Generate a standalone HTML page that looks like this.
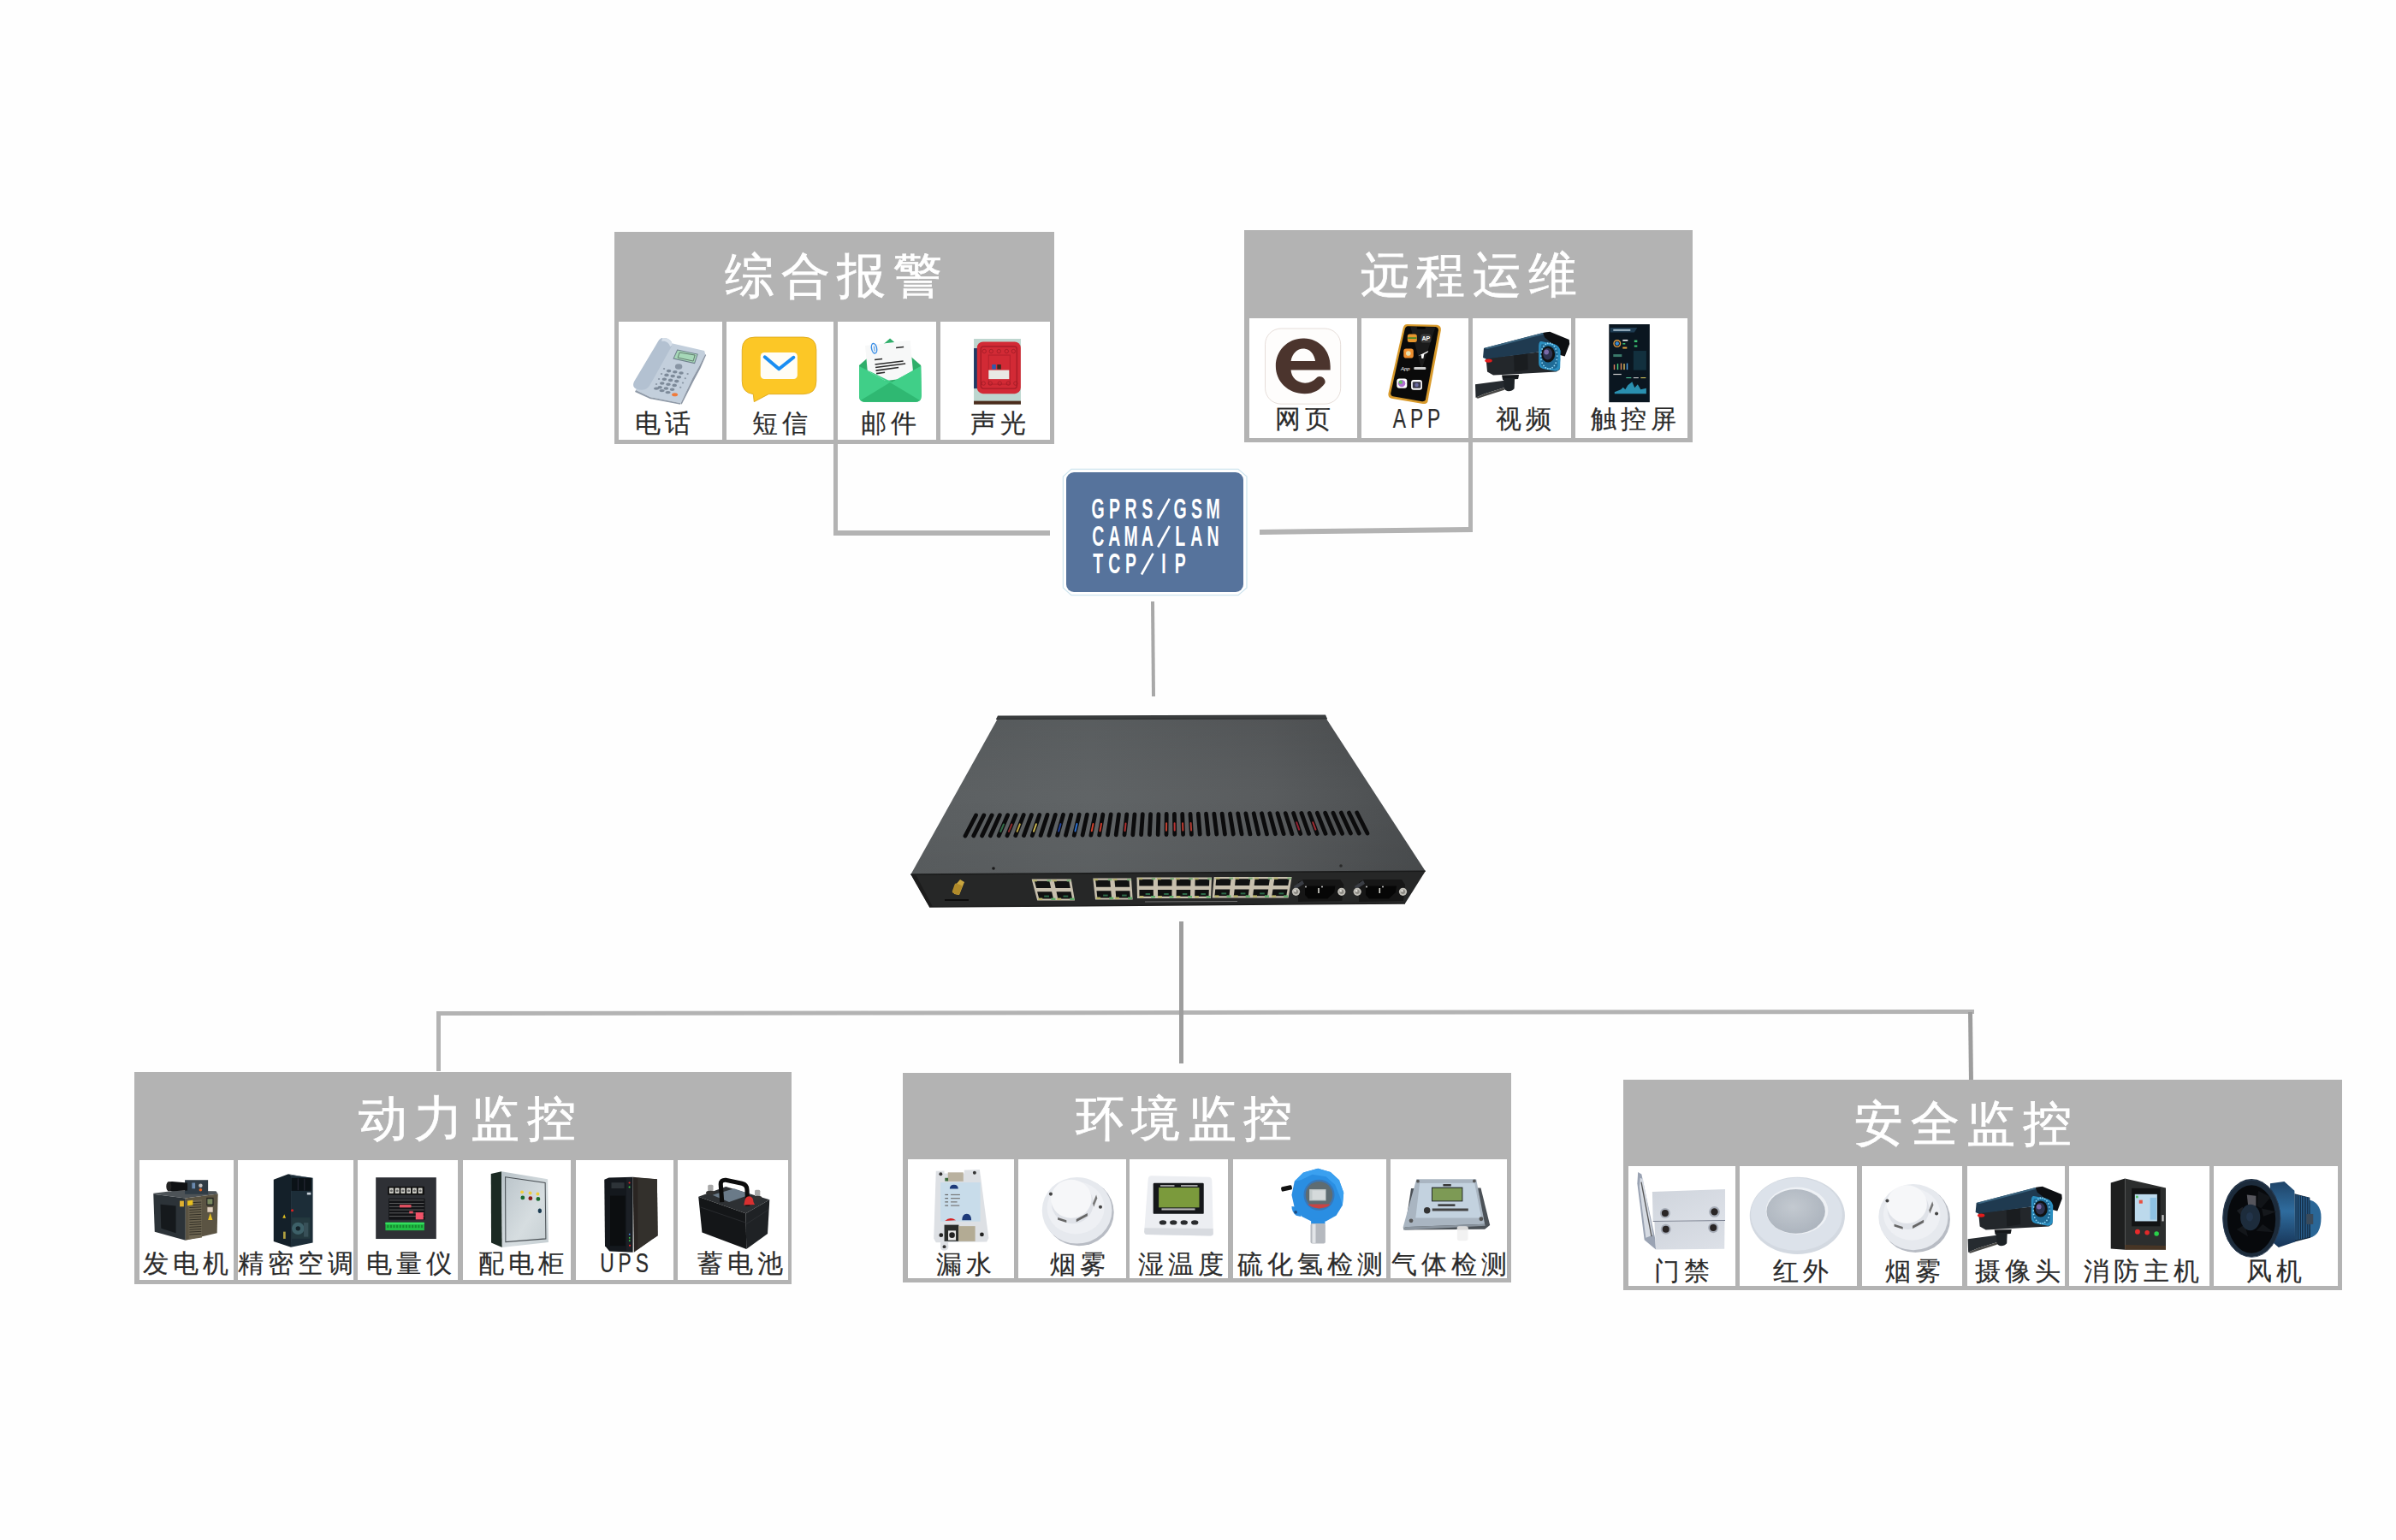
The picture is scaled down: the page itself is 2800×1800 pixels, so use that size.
<!DOCTYPE html>
<html><head><meta charset="utf-8">
<style>
html,body{margin:0;padding:0;background:#fefefe;width:2800px;height:1800px;overflow:hidden}
svg{position:absolute;left:0;top:0;display:block}
text{font-family:"Liberation Sans",sans-serif}
.t{fill:#fff;font-size:57px;letter-spacing:8.6px;stroke:#fff;stroke-width:0.7px}
.l{fill:#2b2b2b;font-size:30px;letter-spacing:5px;stroke:#2b2b2b;stroke-width:0.2px}
.m{font-family:"Liberation Mono",monospace;font-weight:bold;fill:#fff;font-size:32px}
</style></head><body>
<svg width="2800" height="1800" viewBox="0 0 2800 1800">

<g fill="#b3b3b3">
<polygon points="974,516 979,516 979,620 1227,620 1227,626 974,626"/>
<polygon points="1716,516 1721,516 1721,622 1472,625 1472,619 1716,616"/>
<polygon points="1345,703 1349,703 1350,814 1346,814" fill="#a8a8a8"/>
<polygon points="510,1182 2307,1180 2307,1185 515,1187 515,1252 510,1252"/>
<rect x="1378" y="1077" width="5" height="166" fill="#9d9d9d"/>
<polygon points="2300,1183 2305,1183 2306,1265 2301,1265" fill="#9d9d9d"/>
</g>
<rect x="718" y="271" width="514" height="248" fill="#b3b3b3"/>
<rect x="723" y="376" width="121" height="138" fill="#fff"/>
<rect x="849" y="376" width="125" height="138" fill="#fff"/>
<rect x="979" y="376" width="115" height="138" fill="#fff"/>
<rect x="1099" y="376" width="128" height="138" fill="#fff"/>
<text class="t" x="847" y="341.5">综合报警</text>
<text class="l" x="777" y="505" text-anchor="middle">电话</text>
<text class="l" x="914" y="505" text-anchor="middle">短信</text>
<text class="l" x="1041" y="505" text-anchor="middle">邮件</text>
<text class="l" x="1169" y="505" text-anchor="middle">声光</text>
<rect x="1454" y="269" width="524" height="248" fill="#b3b3b3"/>
<rect x="1460" y="372" width="126" height="140" fill="#fff"/>
<rect x="1591" y="372" width="125" height="140" fill="#fff"/>
<rect x="1721" y="372" width="115" height="140" fill="#fff"/>
<rect x="1841" y="372" width="131" height="140" fill="#fff"/>
<text class="t" x="1589.7" y="340.5">远程运维</text>
<text class="l" x="1525" y="500" text-anchor="middle">网页</text>
<text class="l" transform="translate(1658 500) scale(0.76 1.03)" x="0" y="0" text-anchor="middle" style="letter-spacing:6.5px">APP</text>
<text class="l" x="1783" y="500" text-anchor="middle">视频</text>
<text class="l" x="1911" y="500" text-anchor="middle">触控屏</text>
<rect x="157" y="1253" width="768" height="248" fill="#b3b3b3"/>
<rect x="163" y="1356" width="110" height="140" fill="#fff"/>
<rect x="278" y="1356" width="135" height="140" fill="#fff"/>
<rect x="418" y="1356" width="117" height="140" fill="#fff"/>
<rect x="541" y="1356" width="126" height="140" fill="#fff"/>
<rect x="673" y="1356" width="114" height="140" fill="#fff"/>
<rect x="792" y="1356" width="129" height="140" fill="#fff"/>
<text class="t" x="418.9" y="1327.3">动力监控</text>
<text class="l" x="219" y="1487" text-anchor="middle">发电机</text>
<text class="l" x="348" y="1487" text-anchor="middle">精密空调</text>
<text class="l" x="480" y="1487" text-anchor="middle">电量仪</text>
<text class="l" x="611" y="1487" text-anchor="middle">配电柜</text>
<text class="l" transform="translate(732 1487) scale(0.76 1.03)" x="0" y="0" text-anchor="middle" style="letter-spacing:6.5px">UPS</text>
<text class="l" x="867" y="1487" text-anchor="middle">蓄电池</text>
<rect x="1055" y="1254" width="711" height="245" fill="#b3b3b3"/>
<rect x="1061" y="1355" width="124" height="139" fill="#fff"/>
<rect x="1190" y="1355" width="126" height="139" fill="#fff"/>
<rect x="1320" y="1355" width="115" height="139" fill="#fff"/>
<rect x="1441" y="1355" width="179" height="139" fill="#fff"/>
<rect x="1625" y="1355" width="136" height="139" fill="#fff"/>
<text class="t" x="1256.7" y="1327.3">环境监控</text>
<text class="l" x="1129" y="1488" text-anchor="middle">漏水</text>
<text class="l" x="1262" y="1488" text-anchor="middle">烟雾</text>
<text class="l" x="1382" y="1488" text-anchor="middle">湿温度</text>
<text class="l" x="1533" y="1488" text-anchor="middle">硫化氢检测</text>
<text class="l" x="1696" y="1488" text-anchor="middle">气体检测</text>
<rect x="1897" y="1262" width="840" height="246" fill="#b3b3b3"/>
<rect x="1903" y="1363" width="125" height="140" fill="#fff"/>
<rect x="2033" y="1363" width="137" height="140" fill="#fff"/>
<rect x="2176" y="1363" width="117" height="140" fill="#fff"/>
<rect x="2299" y="1363" width="114" height="140" fill="#fff"/>
<rect x="2418" y="1363" width="164" height="140" fill="#fff"/>
<rect x="2587" y="1363" width="145" height="140" fill="#fff"/>
<text class="t" x="2167" y="1332.9">安全监控</text>
<text class="l" x="1968" y="1496" text-anchor="middle">门禁</text>
<text class="l" x="2107" y="1496" text-anchor="middle">红外</text>
<text class="l" x="2238" y="1496" text-anchor="middle">烟雾</text>
<text class="l" x="2360" y="1496" text-anchor="middle">摄像头</text>
<text class="l" x="2505" y="1496" text-anchor="middle">消防主机</text>
<text class="l" x="2660" y="1496" text-anchor="middle">风机</text>
<g id="blue">
<polygon points="1252,548.3 1447,548.3 1457,557 1457,687 1447,695.7 1252,695.7 1242.4,687 1242.4,557" fill="#fff" stroke="#cfe5ef" stroke-width="1.3"/>
<rect x="1246" y="552" width="207" height="140" rx="9" fill="#56739c"/>
<text transform="translate(0 606.3) scale(0.6 1)" x="2138.67 2170.67 2202.67 2234.67 2266.67 2298.67 2330.67 2362.67" y="0" text-anchor="middle" style="font-family:Liberation Sans;font-weight:bold;font-size:32.5px;fill:#fff">GPRS GSM</text>
<line x1="1353.2" y1="607.5" x2="1366.8" y2="582.8" stroke="#fff" stroke-width="2.6"/>
<text transform="translate(0 638.3) scale(0.6 1)" x="2138.67 2170.67 2202.67 2234.67 2266.67 2298.67 2330.67 2362.67" y="0" text-anchor="middle" style="font-family:Liberation Sans;font-weight:bold;font-size:32.5px;fill:#fff">CAMA LAN</text>
<line x1="1353.2" y1="639.5" x2="1366.8" y2="614.8" stroke="#fff" stroke-width="2.6"/>
<text transform="translate(0 670.3) scale(0.6 1)" x="2138.67 2170.67 2202.67 2234.67 2266.67 2298.67" y="0" text-anchor="middle" style="font-family:Liberation Sans;font-weight:bold;font-size:32.5px;fill:#fff">TCP IP</text>
<line x1="1334.0" y1="671.5" x2="1347.6" y2="646.8" stroke="#fff" stroke-width="2.6"/>
</g>
<defs>
<linearGradient id="topH" x1="1064" y1="0" x2="1665" y2="0" gradientUnits="userSpaceOnUse">
<stop offset="0" stop-color="#5b5f61"/><stop offset="0.35" stop-color="#606466"/><stop offset="0.7" stop-color="#595c5e"/><stop offset="1" stop-color="#4a4d4f"/>
</linearGradient>
<linearGradient id="topV" x1="0" y1="837" x2="0" y2="1022" gradientUnits="userSpaceOnUse">
<stop offset="0" stop-color="#000" stop-opacity="0.08"/><stop offset="0.5" stop-color="#000" stop-opacity="0.0"/><stop offset="1" stop-color="#000" stop-opacity="0.05"/>
</linearGradient>
</defs>
<polygon points="1167,838 1548,837 1665.7,1018.2 1064.4,1022" fill="url(#topH)"/>
<polygon points="1167,838 1548,837 1665.7,1018.2 1064.4,1022" fill="url(#topV)"/>
<polygon points="1166,836.5 1549,835.5 1551,840 1164,840.5" fill="#3a3d3e"/>
<line x1="1164" y1="840.5" x2="1551" y2="840" stroke="#2e3031" stroke-width="1.2"/>
<line x1="1128.0" y1="977.0" x2="1140.5" y2="953.0" stroke="#0b0b0c" stroke-width="4.8" stroke-linecap="round"/>
<line x1="1137.8" y1="976.9" x2="1149.8" y2="952.9" stroke="#0b0b0c" stroke-width="4.8" stroke-linecap="round"/>
<line x1="1147.6" y1="976.9" x2="1159.1" y2="952.9" stroke="#0b0b0c" stroke-width="4.8" stroke-linecap="round"/>
<line x1="1157.4" y1="976.8" x2="1168.3" y2="952.8" stroke="#0b0b0c" stroke-width="4.8" stroke-linecap="round"/>
<line x1="1167.2" y1="976.8" x2="1177.6" y2="952.8" stroke="#0b0b0c" stroke-width="4.8" stroke-linecap="round"/>
<line x1="1177.0" y1="976.7" x2="1186.9" y2="952.7" stroke="#0b0b0c" stroke-width="4.8" stroke-linecap="round"/>
<line x1="1186.8" y1="976.6" x2="1196.2" y2="952.6" stroke="#0b0b0c" stroke-width="4.8" stroke-linecap="round"/>
<line x1="1196.5" y1="976.6" x2="1205.4" y2="952.6" stroke="#0b0b0c" stroke-width="4.8" stroke-linecap="round"/>
<line x1="1206.3" y1="976.5" x2="1214.7" y2="952.5" stroke="#0b0b0c" stroke-width="4.8" stroke-linecap="round"/>
<line x1="1216.1" y1="976.4" x2="1224.0" y2="952.4" stroke="#0b0b0c" stroke-width="4.8" stroke-linecap="round"/>
<line x1="1225.9" y1="976.4" x2="1233.3" y2="952.4" stroke="#0b0b0c" stroke-width="4.8" stroke-linecap="round"/>
<line x1="1235.7" y1="976.3" x2="1242.5" y2="952.3" stroke="#0b0b0c" stroke-width="4.8" stroke-linecap="round"/>
<line x1="1245.5" y1="976.2" x2="1251.8" y2="952.2" stroke="#0b0b0c" stroke-width="4.8" stroke-linecap="round"/>
<line x1="1255.3" y1="976.2" x2="1261.1" y2="952.2" stroke="#0b0b0c" stroke-width="4.8" stroke-linecap="round"/>
<line x1="1265.1" y1="976.1" x2="1270.4" y2="952.1" stroke="#0b0b0c" stroke-width="4.8" stroke-linecap="round"/>
<line x1="1274.9" y1="976.1" x2="1279.7" y2="952.1" stroke="#0b0b0c" stroke-width="4.8" stroke-linecap="round"/>
<line x1="1284.7" y1="976.0" x2="1288.9" y2="952.0" stroke="#0b0b0c" stroke-width="4.8" stroke-linecap="round"/>
<line x1="1294.5" y1="975.9" x2="1298.2" y2="951.9" stroke="#0b0b0c" stroke-width="4.8" stroke-linecap="round"/>
<line x1="1304.2" y1="975.9" x2="1307.5" y2="951.9" stroke="#0b0b0c" stroke-width="4.8" stroke-linecap="round"/>
<line x1="1314.0" y1="975.8" x2="1316.8" y2="951.8" stroke="#0b0b0c" stroke-width="4.8" stroke-linecap="round"/>
<line x1="1323.8" y1="975.8" x2="1326.0" y2="951.8" stroke="#0b0b0c" stroke-width="4.8" stroke-linecap="round"/>
<line x1="1333.6" y1="975.7" x2="1335.3" y2="951.7" stroke="#0b0b0c" stroke-width="4.8" stroke-linecap="round"/>
<line x1="1343.4" y1="975.6" x2="1344.6" y2="951.6" stroke="#0b0b0c" stroke-width="4.8" stroke-linecap="round"/>
<line x1="1353.2" y1="975.6" x2="1353.9" y2="951.6" stroke="#0b0b0c" stroke-width="4.8" stroke-linecap="round"/>
<line x1="1363.0" y1="975.5" x2="1363.2" y2="951.5" stroke="#0b0b0c" stroke-width="4.8" stroke-linecap="round"/>
<line x1="1372.8" y1="975.4" x2="1372.4" y2="951.4" stroke="#0b0b0c" stroke-width="4.8" stroke-linecap="round"/>
<line x1="1382.6" y1="975.4" x2="1381.7" y2="951.4" stroke="#0b0b0c" stroke-width="4.8" stroke-linecap="round"/>
<line x1="1392.4" y1="975.3" x2="1391.0" y2="951.3" stroke="#0b0b0c" stroke-width="4.8" stroke-linecap="round"/>
<line x1="1402.2" y1="975.2" x2="1400.3" y2="951.2" stroke="#0b0b0c" stroke-width="4.8" stroke-linecap="round"/>
<line x1="1412.0" y1="975.2" x2="1409.5" y2="951.2" stroke="#0b0b0c" stroke-width="4.8" stroke-linecap="round"/>
<line x1="1421.8" y1="975.1" x2="1418.8" y2="951.1" stroke="#0b0b0c" stroke-width="4.8" stroke-linecap="round"/>
<line x1="1431.5" y1="975.1" x2="1428.1" y2="951.1" stroke="#0b0b0c" stroke-width="4.8" stroke-linecap="round"/>
<line x1="1441.3" y1="975.0" x2="1437.4" y2="951.0" stroke="#0b0b0c" stroke-width="4.8" stroke-linecap="round"/>
<line x1="1451.1" y1="974.9" x2="1446.7" y2="950.9" stroke="#0b0b0c" stroke-width="4.8" stroke-linecap="round"/>
<line x1="1460.9" y1="974.9" x2="1455.9" y2="950.9" stroke="#0b0b0c" stroke-width="4.8" stroke-linecap="round"/>
<line x1="1470.7" y1="974.8" x2="1465.2" y2="950.8" stroke="#0b0b0c" stroke-width="4.8" stroke-linecap="round"/>
<line x1="1480.5" y1="974.8" x2="1474.5" y2="950.8" stroke="#0b0b0c" stroke-width="4.8" stroke-linecap="round"/>
<line x1="1490.3" y1="974.7" x2="1483.8" y2="950.7" stroke="#0b0b0c" stroke-width="4.8" stroke-linecap="round"/>
<line x1="1500.1" y1="974.6" x2="1493.0" y2="950.6" stroke="#0b0b0c" stroke-width="4.8" stroke-linecap="round"/>
<line x1="1509.9" y1="974.6" x2="1502.3" y2="950.6" stroke="#0b0b0c" stroke-width="4.8" stroke-linecap="round"/>
<line x1="1519.7" y1="974.5" x2="1511.6" y2="950.5" stroke="#0b0b0c" stroke-width="4.8" stroke-linecap="round"/>
<line x1="1529.5" y1="974.4" x2="1520.9" y2="950.4" stroke="#0b0b0c" stroke-width="4.8" stroke-linecap="round"/>
<line x1="1539.2" y1="974.4" x2="1530.2" y2="950.4" stroke="#0b0b0c" stroke-width="4.8" stroke-linecap="round"/>
<line x1="1549.0" y1="974.3" x2="1539.4" y2="950.3" stroke="#0b0b0c" stroke-width="4.8" stroke-linecap="round"/>
<line x1="1558.8" y1="974.2" x2="1548.7" y2="950.2" stroke="#0b0b0c" stroke-width="4.8" stroke-linecap="round"/>
<line x1="1568.6" y1="974.2" x2="1558.0" y2="950.2" stroke="#0b0b0c" stroke-width="4.8" stroke-linecap="round"/>
<line x1="1578.4" y1="974.1" x2="1567.3" y2="950.1" stroke="#0b0b0c" stroke-width="4.8" stroke-linecap="round"/>
<line x1="1588.2" y1="974.1" x2="1576.5" y2="950.1" stroke="#0b0b0c" stroke-width="4.8" stroke-linecap="round"/>
<line x1="1598.0" y1="974.0" x2="1585.8" y2="950.0" stroke="#0b0b0c" stroke-width="4.8" stroke-linecap="round"/>
<line x1="1188.6" y1="971.8" x2="1191.9" y2="963.4" stroke="#b8a040" stroke-width="2" stroke-linecap="round"/>
<line x1="1208.0" y1="971.7" x2="1210.9" y2="963.3" stroke="#c9b550" stroke-width="2" stroke-linecap="round"/>
<line x1="1169.3" y1="972.0" x2="1172.9" y2="963.5" stroke="#2f6a45" stroke-width="2" stroke-linecap="round"/>
<line x1="1178.9" y1="971.9" x2="1182.4" y2="963.5" stroke="#8a2a2a" stroke-width="2" stroke-linecap="round"/>
<line x1="1237.1" y1="971.5" x2="1239.5" y2="963.1" stroke="#1c3f9a" stroke-width="2" stroke-linecap="round"/>
<line x1="1256.5" y1="971.4" x2="1258.5" y2="963.0" stroke="#2a6fd0" stroke-width="2" stroke-linecap="round"/>
<line x1="1275.8" y1="971.3" x2="1277.5" y2="962.9" stroke="#d0402a" stroke-width="2" stroke-linecap="round"/>
<line x1="1285.5" y1="971.2" x2="1287.0" y2="962.8" stroke="#c83a2a" stroke-width="2" stroke-linecap="round"/>
<line x1="1314.6" y1="971.0" x2="1315.5" y2="962.6" stroke="#b03030" stroke-width="2" stroke-linecap="round"/>
<line x1="1363.0" y1="970.7" x2="1363.1" y2="962.3" stroke="#c04030" stroke-width="2" stroke-linecap="round"/>
<line x1="1372.7" y1="970.6" x2="1372.6" y2="962.2" stroke="#b83434" stroke-width="2" stroke-linecap="round"/>
<line x1="1382.4" y1="970.6" x2="1382.1" y2="962.2" stroke="#c03a30" stroke-width="2" stroke-linecap="round"/>
<line x1="1392.1" y1="970.5" x2="1391.6" y2="962.1" stroke="#b03a30" stroke-width="2" stroke-linecap="round"/>
<line x1="1518.1" y1="969.7" x2="1515.2" y2="961.3" stroke="#902030" stroke-width="2" stroke-linecap="round"/>
<line x1="1537.4" y1="969.6" x2="1534.2" y2="961.2" stroke="#a02a30" stroke-width="2" stroke-linecap="round"/>
<polygon points="1064.4,1022 1665.7,1018.2 1642,1056 1086,1060" fill="#262727"/>
<line x1="1064.4" y1="1022" x2="1665.7" y2="1018.2" stroke="#1a1b1b" stroke-width="1.5"/>
<line x1="1086" y1="1060" x2="1642" y2="1056" stroke="#1d1d1d" stroke-width="1.5"/>
<polygon points="1064.4,1022 1070,1022 1090,1060 1086,1060" fill="#1c1c1c"/>
<circle cx="1161" cy="1015" r="1.8" fill="#1a1a1a"/><circle cx="1567" cy="1012" r="1.8" fill="#2a2a2a"/>
<polygon points="1116,1035 1122,1028 1127,1031 1121,1046 1115,1045" fill="#c9a640"/>
<rect x="1114" y="1033" width="9" height="12" rx="2" fill="#b08a2a" transform="rotate(20 1118 1039)"/>
<line x1="1104" y1="1052" x2="1132" y2="1052" stroke="#0c0c0c" stroke-width="2"/>
<polygon points="1205.6,1027.6 1251.7,1027.6 1256.0,1052.6 1212.1999999999998,1052.6" fill="#c7bfad"/><polygon points="1208.9,1029.8 1226.3,1029.8 1228.2,1037.9 1211.1,1037.9" fill="#101111"/><rect x="1206.7" y="1028.2" width="5.1" height="2.2" fill="#b4b070"/><rect x="1223.7" y="1028.2" width="4.6" height="2.2" fill="#7fae7a"/><polygon points="1231.8,1029.8 1249.3,1029.8 1250.8,1037.9 1233.6,1037.9" fill="#101111"/><rect x="1229.7" y="1028.2" width="5.1" height="2.2" fill="#b4b070"/><rect x="1246.7" y="1028.2" width="4.6" height="2.2" fill="#7fae7a"/><polygon points="1212.1,1042.3 1229.1,1042.3 1231.0,1050.4 1214.3,1050.4" fill="#101111"/><rect x="1213.2" y="1049.6" width="5.1" height="2.4" fill="#b9b56a"/><rect x="1228.3" y="1049.6" width="5.1" height="2.4" fill="#5fae6a"/><rect x="1220.2" y="1046.6" width="5.8" height="2" fill="#2c6a48"/><polygon points="1234.5,1042.3 1251.5,1042.3 1253.0,1050.4 1236.3,1050.4" fill="#101111"/><rect x="1235.1" y="1049.6" width="5.1" height="2.4" fill="#b9b56a"/><rect x="1250.3" y="1049.6" width="5.1" height="2.4" fill="#5fae6a"/><rect x="1242.5" y="1046.6" width="5.8" height="2" fill="#2c6a48"/>
<polygon points="1277.3,1026.5 1322,1026.5 1323.7,1051.6 1280.0,1051.6" fill="#c7bfad"/><polygon points="1280.2,1028.7 1297.1,1028.7 1297.9,1036.8 1281.1,1036.8" fill="#101111"/><rect x="1278.2" y="1027.1" width="4.9" height="2.2" fill="#b4b070"/><rect x="1294.8" y="1027.1" width="4.5" height="2.2" fill="#7fae7a"/><polygon points="1302.5,1028.7 1319.5,1028.7 1320.1,1036.8 1303.2,1036.8" fill="#101111"/><rect x="1300.6" y="1027.1" width="4.9" height="2.2" fill="#b4b070"/><rect x="1317.1" y="1027.1" width="4.5" height="2.2" fill="#7fae7a"/><polygon points="1281.5,1041.2 1298.3,1041.2 1299.0,1049.4 1282.4,1049.4" fill="#101111"/><rect x="1281.2" y="1048.6" width="4.9" height="2.4" fill="#b9b56a"/><rect x="1296.3" y="1048.6" width="4.9" height="2.4" fill="#5fae6a"/><rect x="1289.1" y="1045.6" width="5.6" height="2" fill="#2c6a48"/><polygon points="1303.6,1041.2 1320.3,1041.2 1320.9,1049.4 1304.3,1049.4" fill="#101111"/><rect x="1303.1" y="1048.6" width="4.9" height="2.4" fill="#b9b56a"/><rect x="1318.1" y="1048.6" width="4.9" height="2.4" fill="#5fae6a"/><rect x="1311.1" y="1045.6" width="5.6" height="2" fill="#2c6a48"/>
<polygon points="1328.5,1025.5 1416,1025.5 1415,1050 1329.0,1050" fill="#c7bfad"/><polygon points="1331.2,1027.7 1347.8,1027.7 1347.8,1035.5 1331.3,1035.5" fill="#101111"/><rect x="1330.3" y="1026.1" width="4.8" height="2.2" fill="#b4b070"/><rect x="1345.6" y="1026.1" width="4.4" height="2.2" fill="#7fae7a"/><polygon points="1353.0,1027.7 1369.6,1027.7 1369.5,1035.5 1353.0,1035.5" fill="#101111"/><rect x="1352.1" y="1026.1" width="4.8" height="2.2" fill="#b4b070"/><rect x="1367.4" y="1026.1" width="4.4" height="2.2" fill="#7fae7a"/><polygon points="1374.9,1027.7 1391.5,1027.7 1391.3,1035.5 1374.8,1035.5" fill="#101111"/><rect x="1374.0" y="1026.1" width="4.8" height="2.2" fill="#b4b070"/><rect x="1389.3" y="1026.1" width="4.4" height="2.2" fill="#7fae7a"/><polygon points="1396.7,1027.7 1413.3,1027.7 1413.0,1035.5 1396.5,1035.5" fill="#101111"/><rect x="1395.9" y="1026.1" width="4.8" height="2.2" fill="#b4b070"/><rect x="1411.2" y="1026.1" width="4.4" height="2.2" fill="#7fae7a"/><polygon points="1331.4,1040.0 1347.8,1040.0 1347.9,1047.8 1331.5,1047.8" fill="#101111"/><rect x="1331.6" y="1047.0" width="4.8" height="2.4" fill="#b9b56a"/><rect x="1345.1" y="1047.0" width="4.8" height="2.4" fill="#5fae6a"/><rect x="1338.6" y="1044.0" width="5.5" height="2" fill="#2c6a48"/><polygon points="1353.0,1040.0 1369.5,1040.0 1369.4,1047.8 1353.1,1047.8" fill="#101111"/><rect x="1353.1" y="1047.0" width="4.8" height="2.4" fill="#b9b56a"/><rect x="1366.6" y="1047.0" width="4.8" height="2.4" fill="#5fae6a"/><rect x="1360.2" y="1044.0" width="5.5" height="2" fill="#2c6a48"/><polygon points="1374.7,1040.0 1391.2,1040.0 1391.0,1047.8 1374.6,1047.8" fill="#101111"/><rect x="1374.6" y="1047.0" width="4.8" height="2.4" fill="#b9b56a"/><rect x="1388.2" y="1047.0" width="4.8" height="2.4" fill="#5fae6a"/><rect x="1381.8" y="1044.0" width="5.5" height="2" fill="#2c6a48"/><polygon points="1396.4,1040.0 1412.8,1040.0 1412.5,1047.8 1396.1,1047.8" fill="#101111"/><rect x="1396.1" y="1047.0" width="4.8" height="2.4" fill="#b9b56a"/><rect x="1409.7" y="1047.0" width="4.8" height="2.4" fill="#5fae6a"/><rect x="1403.4" y="1044.0" width="5.5" height="2" fill="#2c6a48"/>
<polygon points="1418.7,1025 1509.6,1025 1505.6,1049.4 1416.7,1049.4" fill="#c7bfad"/><polygon points="1421.3,1027.2 1438.5,1027.2 1437.7,1035.0 1420.6,1035.0" fill="#101111"/><rect x="1420.5" y="1025.6" width="5.0" height="2.2" fill="#b4b070"/><rect x="1436.4" y="1025.6" width="4.5" height="2.2" fill="#7fae7a"/><polygon points="1443.9,1027.2 1461.2,1027.2 1460.2,1035.0 1443.1,1035.0" fill="#101111"/><rect x="1443.2" y="1025.6" width="5.0" height="2.2" fill="#b4b070"/><rect x="1459.1" y="1025.6" width="4.5" height="2.2" fill="#7fae7a"/><polygon points="1466.6,1027.2 1483.9,1027.2 1482.7,1035.0 1465.6,1035.0" fill="#101111"/><rect x="1465.9" y="1025.6" width="5.0" height="2.2" fill="#b4b070"/><rect x="1481.8" y="1025.6" width="4.5" height="2.2" fill="#7fae7a"/><polygon points="1489.3,1027.2 1506.6,1027.2 1505.2,1035.0 1488.1,1035.0" fill="#101111"/><rect x="1488.6" y="1025.6" width="5.0" height="2.2" fill="#b4b070"/><rect x="1504.5" y="1025.6" width="4.5" height="2.2" fill="#7fae7a"/><polygon points="1420.2,1039.4 1437.3,1039.4 1436.5,1047.2 1419.5,1047.2" fill="#101111"/><rect x="1419.5" y="1046.4" width="5.0" height="2.4" fill="#b9b56a"/><rect x="1433.5" y="1046.4" width="5.0" height="2.4" fill="#5fae6a"/><rect x="1427.4" y="1043.4" width="5.7" height="2" fill="#2c6a48"/><polygon points="1442.7,1039.4 1459.7,1039.4 1458.7,1047.2 1441.8,1047.2" fill="#101111"/><rect x="1441.7" y="1046.4" width="5.0" height="2.4" fill="#b9b56a"/><rect x="1455.7" y="1046.4" width="5.0" height="2.4" fill="#5fae6a"/><rect x="1449.7" y="1043.4" width="5.7" height="2" fill="#2c6a48"/><polygon points="1465.1,1039.4 1482.2,1039.4 1481.0,1047.2 1464.1,1047.2" fill="#101111"/><rect x="1464.0" y="1046.4" width="5.0" height="2.4" fill="#b9b56a"/><rect x="1478.0" y="1046.4" width="5.0" height="2.4" fill="#5fae6a"/><rect x="1472.1" y="1043.4" width="5.7" height="2" fill="#2c6a48"/><polygon points="1487.5,1039.4 1504.6,1039.4 1503.2,1047.2 1486.3,1047.2" fill="#101111"/><rect x="1486.2" y="1046.4" width="5.0" height="2.4" fill="#b9b56a"/><rect x="1500.2" y="1046.4" width="5.0" height="2.4" fill="#5fae6a"/><rect x="1494.5" y="1043.4" width="5.7" height="2" fill="#2c6a48"/>
<line x1="1338" y1="1054" x2="1446" y2="1053.5" stroke="#888" stroke-width="0.8"/>
<polygon points="1517,1031 1523,1028 1566.3,1028 1570.3,1034 1568.3,1053 1517,1054" fill="#161616"/>
<polygon points="1512,1036 1522,1029 1524,1033 1513,1040" fill="#3a3d44"/>
<polygon points="1525,1035.5 1560.3,1035.5 1559.3,1043 1551.3,1050.5 1529,1050.5 1525,1046" fill="#060606"/>
<rect x="1540.2" y="1038" width="1.6" height="6" fill="#d8d8d0"/>
<circle cx="1526" cy="1036.5" r="0.9" fill="#ddd"/><circle cx="1545" cy="1036.5" r="0.9" fill="#ddd"/>
<circle cx="1514.5" cy="1042.3" r="4.6" fill="#bfbdb6"/><circle cx="1514.5" cy="1042.3" r="2.6" fill="#8c8a84"/><circle cx="1513.5" cy="1041.3" r="1.2" fill="#e8e6e0"/>
<circle cx="1567.8" cy="1042.3" r="4.6" fill="#bfbdb6"/><circle cx="1567.8" cy="1042.3" r="2.6" fill="#8c8a84"/><circle cx="1566.8" cy="1041.3" r="1.2" fill="#e8e6e0"/>
<polygon points="1588,1031 1594,1028 1638,1028 1642,1034 1640,1053 1588,1054" fill="#161616"/>
<polygon points="1583,1036 1593,1029 1595,1033 1584,1040" fill="#3a3d44"/>
<polygon points="1596,1035.5 1632,1035.5 1631,1043 1623,1050.5 1600,1050.5 1596,1046" fill="#060606"/>
<rect x="1611.5" y="1038" width="1.6" height="6" fill="#d8d8d0"/>
<circle cx="1597" cy="1036.5" r="0.9" fill="#ddd"/><circle cx="1616" cy="1036.5" r="0.9" fill="#ddd"/>
<circle cx="1586.2" cy="1042.3" r="4.6" fill="#bfbdb6"/><circle cx="1586.2" cy="1042.3" r="2.6" fill="#8c8a84"/><circle cx="1585.2" cy="1041.3" r="1.2" fill="#e8e6e0"/>
<circle cx="1639.5" cy="1042.3" r="4.6" fill="#bfbdb6"/><circle cx="1639.5" cy="1042.3" r="2.6" fill="#8c8a84"/><circle cx="1638.5" cy="1041.3" r="1.2" fill="#e8e6e0"/>
<g transform="translate(730 385) scale(0.100170)">
<polygon points="560,165 930,250 940,290 870,430 790,575 655,860 300,790 130,710 300,300" fill="#c3cfdc"/>
<polygon points="655,860 790,575 870,430 940,290 950,300 880,460 800,610 665,875" fill="#8e98a6"/>
<polygon points="130,710 300,790 655,860 650,875 300,810 120,730" fill="#8f9aa8"/>
<path d="M440,100 C500,95 560,130 555,185 L300,640 C270,700 230,715 150,700 C100,690 90,650 110,610 L390,140 C405,115 420,102 440,100 Z" fill="#b3c1d1"/>
<path d="M440,100 C500,95 560,130 555,185 L530,200 C520,160 480,130 430,140 Z" fill="#d7e0ea"/>
<polygon points="615,240 850,290 815,395 570,340" fill="#a6d8b8" stroke="#6d7f8a" stroke-width="10"/>
<polygon points="640,270 820,300 800,370 620,330" fill="none" stroke="#52675e" stroke-width="8"/>
<ellipse cx="630" cy="435" rx="42" ry="32" fill="#8895a4"/>
<ellipse cx="515" cy="485" rx="28" ry="18" fill="#7d8a99"/><ellipse cx="587" cy="497" rx="28" ry="18" fill="#7d8a99"/><ellipse cx="659" cy="509" rx="28" ry="18" fill="#7d8a99"/><ellipse cx="489" cy="533" rx="28" ry="18" fill="#7d8a99"/><ellipse cx="561" cy="545" rx="28" ry="18" fill="#7d8a99"/><ellipse cx="633" cy="557" rx="28" ry="18" fill="#7d8a99"/><ellipse cx="463" cy="581" rx="28" ry="18" fill="#7d8a99"/><ellipse cx="535" cy="593" rx="28" ry="18" fill="#7d8a99"/><ellipse cx="607" cy="605" rx="28" ry="18" fill="#7d8a99"/><ellipse cx="437" cy="629" rx="28" ry="18" fill="#7d8a99"/><ellipse cx="509" cy="641" rx="28" ry="18" fill="#7d8a99"/><ellipse cx="581" cy="653" rx="28" ry="18" fill="#7d8a99"/><ellipse cx="411" cy="677" rx="28" ry="18" fill="#7d8a99"/><ellipse cx="483" cy="689" rx="28" ry="18" fill="#7d8a99"/><ellipse cx="555" cy="701" rx="28" ry="18" fill="#7d8a99"/><ellipse cx="460" cy="460" rx="12" ry="10" fill="#8a96a4"/><ellipse cx="735" cy="520" rx="12" ry="10" fill="#8a96a4"/><ellipse cx="430" cy="520" rx="12" ry="10" fill="#8a96a4"/><ellipse cx="707" cy="572" rx="12" ry="10" fill="#8a96a4"/><ellipse cx="400" cy="580" rx="12" ry="10" fill="#8a96a4"/><ellipse cx="679" cy="624" rx="12" ry="10" fill="#8a96a4"/><ellipse cx="370" cy="640" rx="12" ry="10" fill="#8a96a4"/><ellipse cx="651" cy="676" rx="12" ry="10" fill="#8a96a4"/><ellipse cx="370" cy="690" rx="30" ry="16" fill="#7d8a99"/><ellipse cx="435" cy="715" rx="30" ry="16" fill="#7d8a99"/><ellipse cx="505" cy="735" rx="30" ry="16" fill="#7d8a99"/><ellipse cx="585" cy="760" rx="34" ry="20" fill="#f07a3a"/></g>
<g transform="translate(730 385) scale(0.100170)">
<path d="M1520,90 L2085,90 Q2235,90 2235,240 L2235,605 Q2235,755 2085,755 L1680,755 L1510,845 L1500,755 Q1370,740 1370,605 L1370,240 Q1370,90 1520,90 Z" fill="#fcc726" stroke="#d9a417" stroke-width="8"/>
<rect x="1585" y="270" width="430" height="310" rx="45" fill="#fffdf6"/>
<polyline points="1635,322 1800,462 1970,327" fill="none" stroke="#1a8ef2" stroke-width="40" stroke-linecap="round" stroke-linejoin="round"/>
</g>
<g transform="translate(990 385) scale(0.100170)">
<path d="M140,420 L500,105 L860,420 L865,780 Q865,845 800,845 L205,845 Q140,845 140,780 Z" fill="#2fae6a"/>
<polygon points="210,190 735,128 775,560 250,625" fill="#f7f8f8"/>
<ellipse cx="315" cy="222" rx="30" ry="58" transform="rotate(-12 315 222)" fill="none" stroke="#3a8ee6" stroke-width="14"/><line x1="312" y1="195" x2="322" y2="255" stroke="#3a8ee6" stroke-width="10"/>
<line x1="570" y1="215" x2="660" y2="205" stroke="#2a2a2a" stroke-width="16"/>
<line x1="320" y1="355" x2="410" y2="345" stroke="#2a2a2a" stroke-width="16"/>
<line x1="325" y1="410" x2="655" y2="370" stroke="#2a2a2a" stroke-width="16"/>
<line x1="330" y1="445" x2="680" y2="400" stroke="#2a2a2a" stroke-width="16"/>
<line x1="335" y1="480" x2="600" y2="445" stroke="#2a2a2a" stroke-width="16"/>
<line x1="340" y1="515" x2="440" y2="502" stroke="#2a2a2a" stroke-width="16"/>
<polygon points="140,430 500,630 860,430 865,780 Q865,845 800,845 L205,845 Q140,845 140,780" fill="#3fce88"/>
<path d="M140,430 L500,630 L860,430 L865,780 Q865,845 800,845 L205,845 Q140,845 140,780 Z" fill="#40cf88"/>
<path d="M160,825 L500,620 L845,825 Q830,845 800,845 L205,845 Q175,845 160,825 Z" fill="#2fb872"/>
</g>
<g transform="translate(990 385) scale(0.100170)">
<rect x="1478" y="110" width="548" height="765" fill="#bdd6cf"/>
<rect x="1478" y="835" width="548" height="40" fill="#4b2c1c"/>
<rect x="1478" y="220" width="60" height="470" fill="#1f3a66"/>
<rect x="1515" y="145" width="510" height="605" rx="70" fill="#d22a35"/>
<rect x="1560" y="200" width="420" height="490" rx="30" fill="none" stroke="#a81d28" stroke-width="14"/>
<rect x="1650" y="300" width="250" height="340" fill="none" stroke="#b5202c" stroke-width="10"/>
<rect x="1650" y="475" width="240" height="105" fill="#e9e9e4"/>
<rect x="1690" y="410" width="45" height="55" fill="#2a5ab0"/>
<rect x="1750" y="410" width="45" height="55" fill="#3a2a20"/>
<circle cx="1600" cy="255" r="22" fill="none" stroke="#a01b26" stroke-width="8"/><circle cx="1680" cy="255" r="22" fill="none" stroke="#a01b26" stroke-width="8"/><circle cx="1770" cy="255" r="22" fill="none" stroke="#a01b26" stroke-width="8"/><circle cx="1860" cy="255" r="22" fill="none" stroke="#a01b26" stroke-width="8"/><circle cx="1940" cy="255" r="22" fill="none" stroke="#a01b26" stroke-width="8"/><circle cx="1590" cy="630" r="22" fill="none" stroke="#a01b26" stroke-width="8"/><circle cx="1670" cy="630" r="22" fill="none" stroke="#a01b26" stroke-width="8"/><circle cx="1780" cy="630" r="22" fill="none" stroke="#a01b26" stroke-width="8"/><circle cx="1880" cy="630" r="22" fill="none" stroke="#a01b26" stroke-width="8"/><circle cx="1965" cy="630" r="22" fill="none" stroke="#a01b26" stroke-width="8"/></g>
<g transform="translate(1465 372) scale(0.100170)">
<rect x="135" y="120" width="880" height="880" rx="185" fill="#fefdfc" stroke="#cdbdb4" stroke-width="5"/>
<path d="M895,605 L895,560 C895,370 760,235 577,235 C395,235 258,380 258,557 C258,740 400,880 597,880 C700,880 780,830 830,760 C845,735 825,700 795,685 C770,672 745,680 730,700 C700,735 655,755 600,755 C505,755 440,690 435,605 Z M435,500 C450,410 510,355 577,355 C650,355 705,410 720,500 Z" fill="#4b342d" fill-rule="evenodd"/>
</g>
<g transform="translate(1465 372) scale(0.100170)">
<path d="M1790,70 L2140,78 Q2190,85 2185,140 L2030,975 Q2020,1000 1975,998 L1610,935 Q1565,925 1572,875 L1745,110 Q1755,72 1790,70 Z" fill="#d89a2c"/>
<path d="M1800,92 L2120,100 Q2160,105 2155,145 L2005,950 Q1995,972 1965,970 L1625,910 Q1595,902 1600,870 L1765,125 Q1772,94 1800,92 Z" fill="#0a0a0a"/>
<polygon points="1830,100 2120,105 1960,600" fill="#2a2a2a" opacity="0.55"/>
<rect x="1905" y="100" width="100" height="25" rx="12" fill="#000"/>
<rect x="1795" y="185" width="110" height="95" rx="25" fill="#e8962e"/>
<rect x="1800" y="222" width="100" height="18" fill="#4a8a2a"/>
<rect x="1950" y="185" width="120" height="100" rx="28" fill="#3a3a3a"/>
<text x="2010" y="262" font-size="70" font-weight="bold" fill="#fff" text-anchor="middle" font-family="Liberation Sans">AP</text>
<rect x="1750" y="355" width="115" height="110" rx="28" fill="#f09030"/>
<circle cx="1805" cy="410" r="28" fill="#e8e0b0"/>
<path d="M1920,440 L2040,380 L2030,400 L1990,420 L1980,470 L1960,470 L1955,430 Z" fill="#fff"/>
<text x="1770" y="605" font-size="60" font-style="italic" fill="#fff" text-anchor="middle" font-family="Liberation Sans">App</text>
<rect x="1870" y="570" width="140" height="30" rx="10" fill="#ccc"/>
<rect x="1670" y="705" width="120" height="110" rx="30" fill="#fff"/>
<circle cx="1728" cy="760" r="42" fill="#b070d0"/>
<circle cx="1715" cy="745" r="22" fill="#60c060"/>
<rect x="1838" y="720" width="128" height="115" rx="30" fill="#fff"/>
<rect x="1855" y="740" width="95" height="75" rx="12" fill="#3a3a4a"/>
<circle cx="1902" cy="778" r="22" fill="#6a6aa0"/>
</g>
<g transform="translate(1715 372) scale(0.100170)">
<polygon points="90,770 410,730 430,720 440,805 200,880 95,925" fill="#262b30"/>
<polygon points="95,925 200,880 440,805 430,835 210,905 120,935" fill="#4a4a48"/>
<polygon points="400,665 600,660 590,710 410,720" fill="#15181b"/>
<path d="M420,700 L550,700 L545,820 Q520,850 480,850 Q440,845 430,820 Z" fill="#1d2226"/>
<polygon points="215,465 830,395 1080,470 1075,600 1035,625 300,665 230,625" fill="#23272b"/>
<polygon points="540,430 700,410 705,600 545,625" fill="#1a1d20"/>
<polygon points="190,350 880,170 955,162 1030,330 1080,470 830,395 215,475 180,460" fill="#1f3a50"/>
<polygon points="190,350 880,170 900,185 230,360" fill="#3b6580"/>
<polygon points="880,170 960,158 1185,250 1190,300 1135,445 1080,430 1030,330 900,225" fill="#0d0f12"/>
<path d="M860,270 L1010,300 Q1070,320 1085,380 L1080,580 Q1060,625 1010,615 L880,590 Q830,575 830,520 L830,320 Q835,265 860,270 Z" fill="#2a8ec0"/>
<path d="M870,300 L1000,320 Q1045,335 1055,385 L1050,560 Q1035,595 1000,590 L890,570 Q855,560 855,520 L855,340 Q858,300 870,300 Z" fill="#1f6a95"/>
<ellipse cx="940" cy="420" rx="80" ry="95" fill="#111"/>
<ellipse cx="935" cy="415" rx="55" ry="68" fill="#2e3350"/>
<ellipse cx="920" cy="395" rx="28" ry="30" fill="#7a6aa8"/>
<ellipse cx="245" cy="495" rx="42" ry="22" fill="#e11c1c"/>
<circle cx="1045" cy="440" r="9" fill="#8fd6f5"/><circle cx="1041" cy="482" r="9" fill="#8fd6f5"/><circle cx="1030" cy="521" r="9" fill="#8fd6f5"/><circle cx="1012" cy="553" r="9" fill="#8fd6f5"/><circle cx="989" cy="576" r="9" fill="#8fd6f5"/><circle cx="964" cy="588" r="9" fill="#8fd6f5"/><circle cx="936" cy="588" r="9" fill="#8fd6f5"/><circle cx="911" cy="576" r="9" fill="#8fd6f5"/><circle cx="888" cy="553" r="9" fill="#8fd6f5"/><circle cx="870" cy="521" r="9" fill="#8fd6f5"/><circle cx="859" cy="482" r="9" fill="#8fd6f5"/><circle cx="855" cy="440" r="9" fill="#8fd6f5"/><circle cx="859" cy="398" r="9" fill="#8fd6f5"/><circle cx="870" cy="359" r="9" fill="#8fd6f5"/><circle cx="888" cy="327" r="9" fill="#8fd6f5"/><circle cx="911" cy="304" r="9" fill="#8fd6f5"/><circle cx="936" cy="292" r="9" fill="#8fd6f5"/><circle cx="964" cy="292" r="9" fill="#8fd6f5"/><circle cx="989" cy="304" r="9" fill="#8fd6f5"/><circle cx="1012" cy="327" r="9" fill="#8fd6f5"/><circle cx="1030" cy="359" r="9" fill="#8fd6f5"/><circle cx="1041" cy="398" r="9" fill="#8fd6f5"/></g>
<g transform="translate(1715 372) scale(0.100170)">
<rect x="1650" y="70" width="475" height="910" fill="#0a1620"/>
<polygon points="1665,110 1980,110 1945,165 1665,165" fill="#1d3a50"/>
<rect x="1700" y="128" width="200" height="20" fill="#9fb8c8"/>
<circle cx="1745" cy="295" r="38" fill="none" stroke="#e09a40" stroke-width="14"/>
<circle cx="1745" cy="295" r="22" fill="#3a8ad0"/>
<rect x="1810" y="250" width="60" height="15" fill="#fff"/>
<rect x="1810" y="290" width="30" height="15" fill="#3ac070"/>
<rect x="1810" y="335" width="50" height="20" fill="#e0a040"/>
<rect x="1945" y="255" width="35" height="25" fill="#3ac070"/>
<rect x="1945" y="315" width="35" height="20" fill="#3ac070"/>
<rect x="1935" y="380" width="150" height="225" fill="#12303e"/>
<rect x="1700" y="420" width="100" height="30" fill="#3a7a6a"/>
<rect x="1705" y="540" width="14" height="60" fill="#e08060"/>
<rect x="1745" y="530" width="14" height="70" fill="#50d080"/>
<rect x="1785" y="525" width="14" height="75" fill="#e09060"/>
<rect x="1820" y="530" width="14" height="70" fill="#e0c060"/>
<rect x="1855" y="525" width="14" height="75" fill="#50a0e0"/>
<rect x="1700" y="648" width="95" height="12" fill="#ccc"/>
<rect x="1850" y="690" width="60" height="10" fill="#50d0a0"/>
<rect x="1935" y="690" width="60" height="10" fill="#ddd"/>
<rect x="2020" y="690" width="60" height="10" fill="#e0d060"/>
<path d="M1715,880 L1715,860 L1790,830 L1815,805 L1840,830 L1870,780 L1920,740 L1950,810 L1985,770 L2020,830 L2085,815 L2085,880 Z" fill="#2a90b0"/>
</g>
<g transform="translate(165 1360) scale(0.150240)">
<polygon points="95,232 260,212 582,214 597,236 345,270 95,238" fill="#4d5357"/>
<polygon points="95,238 345,270 345,597 105,530" fill="#2c3338"/>
<polygon points="345,270 597,236 590,540 345,597" fill="#5b5443"/>
<polygon points="150,318 270,330 270,540 155,505" fill="#15191c"/>
<polygon points="368,292 472,282 472,575 370,590" fill="#6c6450"/>
<line x1="375" y1="305" x2="468" y2="300" stroke="#2a2820" stroke-width="6"/><line x1="375" y1="324" x2="468" y2="319" stroke="#2a2820" stroke-width="6"/><line x1="375" y1="343" x2="468" y2="338" stroke="#2a2820" stroke-width="6"/><line x1="375" y1="362" x2="468" y2="357" stroke="#2a2820" stroke-width="6"/><line x1="375" y1="381" x2="468" y2="376" stroke="#2a2820" stroke-width="6"/><line x1="375" y1="400" x2="468" y2="395" stroke="#2a2820" stroke-width="6"/><line x1="375" y1="419" x2="468" y2="414" stroke="#2a2820" stroke-width="6"/><line x1="375" y1="438" x2="468" y2="433" stroke="#2a2820" stroke-width="6"/><line x1="375" y1="457" x2="468" y2="452" stroke="#2a2820" stroke-width="6"/><line x1="375" y1="476" x2="468" y2="471" stroke="#2a2820" stroke-width="6"/><line x1="375" y1="495" x2="468" y2="490" stroke="#2a2820" stroke-width="6"/><line x1="375" y1="514" x2="468" y2="509" stroke="#2a2820" stroke-width="6"/><line x1="375" y1="533" x2="468" y2="528" stroke="#2a2820" stroke-width="6"/><line x1="375" y1="552" x2="468" y2="547" stroke="#2a2820" stroke-width="6"/>
<rect x="300" y="290" width="32" height="45" fill="#e0b030"/>
<polygon points="360,290 402,284 402,322 360,327" fill="#e8c020"/>
<rect x="508" y="265" width="55" height="62" fill="#222"/>
<rect x="515" y="275" width="40" height="42" fill="#7a8a60"/>
<rect x="515" y="340" width="42" height="38" fill="#e0d0c0"/>
<polygon points="537,385 555,440 520,440" fill="#e8c020"/>
<rect x="340" y="128" width="180" height="110" fill="#2f3b45"/>
<rect x="395" y="150" width="25" height="45" fill="#6a8ab0"/>
<circle cx="462" cy="172" r="15" fill="#c0c0c0"/>
<circle cx="462" cy="205" r="12" fill="#e06020"/>
<path d="M200,170 Q200,140 240,140 L360,150 L360,210 L240,215 Q200,210 200,180 Z" fill="#0f1113"/>
<ellipse cx="215" cy="178" rx="20" ry="38" fill="#222"/>
</g>
<g transform="translate(165 1360) scale(0.150240)">
<polygon points="1030,125 1145,82 1165,90 1165,650 1030,605" fill="#142029"/>
<polygon points="1145,82 1335,115 1165,90" fill="#2a3a45"/>
<polygon points="1165,90 1335,112 1335,615 1165,650" fill="#1c2d38"/>
<rect x="1168" y="112" width="155" height="100" fill="#0b1217"/>
<line x1="1220" y1="115" x2="1220" y2="208" stroke="#334" stroke-width="5"/>
<line x1="1270" y1="118" x2="1270" y2="210" stroke="#334" stroke-width="5"/>
<rect x="1290" y="225" width="30" height="18" fill="#c8d0d8"/>
<circle cx="1175" cy="365" r="10" fill="#e02020"/>
<polygon points="1113,395 1125,425 1100,425" fill="#e0c020"/>
<rect x="1105" y="530" width="18" height="55" fill="#b0a040"/>
<rect x="1172" y="420" width="142" height="165" fill="#24393f"/>
<circle cx="1220" cy="505" r="48" fill="#3d6068"/>
<circle cx="1220" cy="505" r="18" fill="#15232a"/>
<rect x="1265" y="460" width="35" height="110" fill="#385058"/>
</g>
<g transform="translate(165 1360) scale(0.150240)">
<rect x="1825" y="108" width="470" height="478" fill="#2e3035"/>
<rect x="1918" y="178" width="285" height="66" fill="#111"/>
<rect x="1930" y="190" width="32" height="42" fill="#d8d8d0"/><circle cx="1946" cy="212" r="10" fill="#666"/><rect x="1975" y="190" width="32" height="42" fill="#d8d8d0"/><circle cx="1991" cy="212" r="10" fill="#666"/><rect x="2020" y="190" width="32" height="42" fill="#d8d8d0"/><circle cx="2036" cy="212" r="10" fill="#666"/><rect x="2065" y="190" width="32" height="42" fill="#d8d8d0"/><circle cx="2081" cy="212" r="10" fill="#666"/><rect x="2110" y="190" width="32" height="42" fill="#d8d8d0"/><circle cx="2126" cy="212" r="10" fill="#666"/><rect x="2155" y="190" width="32" height="42" fill="#d8d8d0"/><circle cx="2171" cy="212" r="10" fill="#666"/>
<rect x="1925" y="272" width="282" height="165" fill="#121316"/>
<line x1="1930" y1="285" x2="2200" y2="285" stroke="#bbb" stroke-width="3"/><line x1="1930" y1="310" x2="2200" y2="310" stroke="#bbb" stroke-width="3"/><line x1="1930" y1="335" x2="2200" y2="335" stroke="#bbb" stroke-width="3"/><line x1="1930" y1="360" x2="2200" y2="360" stroke="#bbb" stroke-width="3"/><line x1="1930" y1="385" x2="2200" y2="385" stroke="#bbb" stroke-width="3"/><line x1="1930" y1="410" x2="2200" y2="410" stroke="#bbb" stroke-width="3"/>
<rect x="2010" y="320" width="90" height="22" fill="#e05060"/>
<rect x="2085" y="370" width="30" height="18" fill="#e05060"/>
<rect x="2135" y="380" width="60" height="55" fill="#f05268"/>
<rect x="1900" y="458" width="302" height="62" fill="#22c046"/>
<rect x="1900" y="458" width="302" height="14" fill="#36e060"/>
<rect x="1912" y="478" width="14" height="22" fill="#178a30"/><rect x="1936" y="478" width="14" height="22" fill="#178a30"/><rect x="1960" y="478" width="14" height="22" fill="#178a30"/><rect x="1984" y="478" width="14" height="22" fill="#178a30"/><rect x="2008" y="478" width="14" height="22" fill="#178a30"/><rect x="2032" y="478" width="14" height="22" fill="#178a30"/><rect x="2056" y="478" width="14" height="22" fill="#178a30"/><rect x="2080" y="478" width="14" height="22" fill="#178a30"/><rect x="2104" y="478" width="14" height="22" fill="#178a30"/><rect x="2128" y="478" width="14" height="22" fill="#178a30"/><rect x="2152" y="478" width="14" height="22" fill="#178a30"/><rect x="2176" y="478" width="14" height="22" fill="#178a30"/></g>
<g transform="translate(550 1360) scale(0.150240)">
<polygon points="158,80 240,62 245,652 160,615" fill="#1b2a23"/>
<defs><linearGradient id="cabg" x1="0" y1="0" x2="1" y2="1"><stop offset="0" stop-color="#b8c2c8"/><stop offset="0.6" stop-color="#d6dde0"/><stop offset="1" stop-color="#c5ced2"/></linearGradient></defs>
<polygon points="240,62 600,122 605,612 245,652" fill="url(#cabg)"/>
<polygon points="270,105 580,150 585,585 272,610" fill="none" stroke="#4a5055" stroke-width="7"/>
<circle cx="400" cy="222" r="13" fill="#f0d040"/>
<circle cx="463" cy="230" r="13" fill="#f0d040"/>
<circle cx="522" cy="236" r="13" fill="#f0d040"/>
<circle cx="405" cy="266" r="16" fill="#1a6a30"/>
<circle cx="465" cy="271" r="16" fill="#8a1a1a"/>
<circle cx="525" cy="276" r="16" fill="#1a6a30"/>
<ellipse cx="538" cy="368" rx="14" ry="18" fill="#1a3a50"/>
</g>
<g transform="translate(550 1360) scale(0.150240)">
<polygon points="1040,125 1075,110 1262,105 1262,690 1080,682 1045,640" fill="#14181d"/>
<polygon points="1262,105 1450,122 1455,560 1270,690" fill="#2a2522"/>
<polygon points="1300,112 1450,122 1455,560 1300,668" fill="#33302c"/>
<rect x="1095" y="148" width="100" height="45" fill="#2d3338"/>
<rect x="1085" y="250" width="118" height="390" fill="#0c0e10"/>
<rect x="1210" y="110" width="40" height="570" fill="#1c2026"/>
<circle cx="1235" cy="150" r="7" fill="#e02a2a"/>
<circle cx="1235" cy="183" r="7" fill="#3ad04a"/>
<circle cx="1236" cy="550" r="6" fill="#4a8ae0"/>
<circle cx="1236" cy="578" r="6" fill="#3ad04a"/>
<circle cx="1236" cy="600" r="6" fill="#3ad04a"/>
<circle cx="1238" cy="638" r="7" fill="#e02a2a"/>
</g>
<g transform="translate(550 1360) scale(0.150240)">
<polygon points="1772,258 1985,180 2325,282 2140,388" fill="#2d3033"/>
<polygon points="1880,245 2050,195 2180,240 2010,300" fill="#6a7a88"/>
<polygon points="1772,258 2140,388 2145,665 1800,535" fill="#141618"/>
<polygon points="2140,388 2325,282 2310,545 2145,665" fill="#1f2225"/>
<line x1="1790" y1="340" x2="2140" y2="460" stroke="#2a2d30" stroke-width="6"/>
<line x1="2145" y1="470" x2="2315" y2="360" stroke="#2e3134" stroke-width="6"/>
<path d="M1955,300 L1945,160 Q1945,125 1985,128 L2110,155 Q2150,165 2150,205 L2155,330" fill="none" stroke="#0c0c0c" stroke-width="34"/>
<rect x="1845" y="165" width="42" height="60" rx="10" fill="#a8a8a8"/>
<ellipse cx="1866" cy="228" rx="35" ry="16" fill="#333"/>
<rect x="2210" y="205" width="42" height="60" rx="10" fill="#a8a8a8"/>
<ellipse cx="2231" cy="268" rx="35" ry="16" fill="#333"/>
<path d="M2130,300 Q2135,255 2165,255 Q2200,258 2200,300 L2210,320 L2125,322 Z" fill="#d83030"/>
</g>
<g transform="translate(1075 1358) scale(0.150240)">
<polygon points="125,72 465,60 535,592 520,622 125,627 108,595" fill="#dde0e4"/>
<rect x="190" y="60" width="155" height="30" fill="#fefefe"/>
<rect x="218" y="82" width="120" height="70" fill="#b9b19f"/>
<rect x="195" y="125" width="25" height="25" fill="#3a6a3a"/>
<polygon points="160,160 470,160 470,465 160,465" fill="#c8dcea"/>
<path d="M232,210 Q232,178 265,178 Q298,178 298,210 Z" fill="#1d3a7a"/>
<path d="M328,455 Q328,405 365,405 Q400,405 400,455 Z" fill="#1d3a7a"/>
<path d="M195,460 Q235,420 280,455 Z" fill="#d82020"/>
<rect x="195" y="252" width="25" height="8" fill="#666"/><rect x="240" y="252" width="72" height="8" fill="#777"/>
<rect x="195" y="280" width="25" height="8" fill="#666"/><rect x="240" y="280" width="72" height="8" fill="#777"/>
<rect x="195" y="308" width="25" height="8" fill="#666"/><rect x="240" y="308" width="50" height="8" fill="#777"/>
<rect x="195" y="336" width="25" height="8" fill="#666"/><rect x="240" y="336" width="68" height="8" fill="#777"/>
<rect x="190" y="490" width="112" height="128" fill="#2a2c2a"/>
<rect x="220" y="535" width="60" height="75" fill="#e8e8e8"/>
<circle cx="250" cy="570" r="22" fill="#222"/>
<rect x="300" y="500" width="130" height="118" fill="#b3ab94"/>
<circle cx="162" cy="95" r="13" fill="#333"/>
<circle cx="425" cy="85" r="13" fill="#333"/>
<circle cx="165" cy="570" r="16" fill="#222"/>
<circle cx="482" cy="565" r="16" fill="#222"/>
<path d="M160,625 L220,625 L222,665 Q215,690 190,690 Q162,688 160,665 Z" fill="#dde0e4"/>
<circle cx="190" cy="660" r="13" fill="#333"/>
</g>
<g transform="translate(1075 1358) scale(0.150240)">
<ellipse cx="1237" cy="393" rx="272" ry="261.12" fill="#b8bcc4"/>
<ellipse cx="1222" cy="378" rx="272" ry="258.4" fill="#e6e9ee"/>
<ellipse cx="1212" cy="358" rx="223.04" ry="204.0" fill="#eef0f4"/>
<ellipse cx="1187" cy="323" rx="163.2" ry="157.76" fill="#dfe2e8"/>
<ellipse cx="1177" cy="288" rx="157.76" ry="149.60000000000002" fill="#f6f7f9"/>
<path d="M1072.4,432.4 L1140.4,454.16 L1140.4,473.2 L1072.4,451.44 Z" fill="#666"/>
<path d="M1216.56,446.0 L1303.6,399.76 L1303.6,421.52 L1216.56,467.76 Z" fill="#666"/>
<path d="M1344.4,323.6 L1371.6,255.6 L1379.76,282.8 L1352.56,350.8 Z" fill="#777"/>
<circle cx="1018.0" cy="250.16000000000003" r="13.600000000000001" fill="#444"/>
<circle cx="1404.24" cy="350.8" r="13.600000000000001" fill="#444"/>
</g>
<g transform="translate(1075 1358) scale(0.150240)">
<path d="M1800,108 L2250,118 Q2270,120 2272,150 L2282,555 Q2282,575 2260,575 L1765,565 Q1745,563 1745,540 L1775,135 Q1778,108 1800,108 Z" fill="#eceef2"/>
<path d="M1765,565 L2260,575 Q2282,575 2282,555 L2280,520 L1748,515 L1745,540 Q1745,563 1765,565 Z" fill="#d8dbe0"/>
<rect x="1815" y="165" width="393" height="240" rx="8" fill="#15171a"/>
<rect x="1858" y="200" width="315" height="155" fill="#7b9a3c"/>
<rect x="1870" y="180" width="110" height="12" fill="#aaa"/>
<rect x="2030" y="180" width="130" height="12" fill="#aaa"/>
<rect x="1880" y="362" width="260" height="14" fill="#bbb"/>
<ellipse cx="1890" cy="472" rx="28" ry="17" fill="#2a2c2e"/>
<ellipse cx="1972" cy="472" rx="28" ry="17" fill="#2a2c2e"/>
<ellipse cx="2055" cy="472" rx="28" ry="17" fill="#2a2c2e"/>
<ellipse cx="2138" cy="472" rx="28" ry="17" fill="#2a2c2e"/>
</g>
<g transform="translate(1440 1358) scale(0.133556)">
<rect x="428" y="212" width="95" height="40" rx="12" fill="#111" transform="rotate(-12 475 232)"/>
<path d="M520,390 Q520,440 560,470 L600,480 L620,400 Z" fill="#2c8de0"/>
<circle cx="555" cy="440" r="14" fill="#1a4a80"/>
<path d="M750,58 L860,90 L935,160 L975,270 L965,380 L910,470 L820,520 L700,525 L610,480 L545,400 L520,290 L545,170 L620,95 Z" fill="#2a8ee2"/>
<path d="M750,58 L860,90 L935,160 L975,270 L965,380 L940,300 L900,200 L820,130 L700,110 L600,160 L545,170 L620,95 Z" fill="#3aa0f0"/>
<circle cx="760" cy="290" r="135" fill="#3877b8"/>
<circle cx="760" cy="290" r="118" fill="#5e6c72"/>
<rect x="675" y="240" width="145" height="100" fill="#c2cacb"/>
<rect x="700" y="250" width="115" height="80" fill="#d5dadb"/>
<path d="M660,370 L860,370 Q840,400 760,408 Q690,400 660,370 Z" fill="#c84444"/>
<rect x="690" y="500" width="122" height="45" fill="#2a8ee2"/>
<rect x="685" y="540" width="130" height="175" rx="15" fill="#b5b9bf"/>
<rect x="700" y="545" width="30" height="165" fill="#e2e5e8"/>
</g>
<g transform="translate(1440 1358) scale(0.133556)">
<polygon points="1565,232 2175,228 2255,555 2210,590 1510,595" fill="#4c5258"/>
<polygon points="1612,152 2135,152 2210,545 1495,570" fill="#a9b5c1"/>
<polygon points="1640,188 2120,185 2180,490 1605,490" fill="#c3d2df"/>
<rect x="1745" y="222" width="272" height="125" fill="#1e2226"/>
<rect x="1752" y="230" width="258" height="110" fill="#7d9a55"/>
<rect x="1845" y="195" width="70" height="18" fill="#333"/>
<rect x="1800" y="370" width="150" height="18" fill="#333"/>
<rect x="1750" y="408" width="315" height="22" fill="#444"/>
<circle cx="1705" cy="425" r="28" fill="#333"/>
<circle cx="1625" cy="170" r="14" fill="#555"/>
<circle cx="2118" cy="168" r="14" fill="#555"/>
<circle cx="1565" cy="515" r="18" fill="#555"/>
<circle cx="2178" cy="500" r="18" fill="#555"/>
<polygon points="1495,570 2210,545 2215,560 1500,598" fill="#8a949e"/>
<rect x="1968" y="565" width="95" height="125" rx="20" fill="#f2f2f2"/>
<rect x="1968" y="565" width="95" height="30" rx="10" fill="#dadada"/>
</g>
<g transform="translate(1905 1365) scale(0.166945)">
<defs><linearGradient id="dmg" x1="0" y1="0" x2="1" y2="1"><stop offset="0" stop-color="#cfd4dc"/><stop offset="1" stop-color="#dde1e8"/></linearGradient></defs>
<polygon points="55,30 80,45 175,495 180,572 100,505 50,110" fill="#9aa3b3"/>
<polygon points="70,70 90,80 160,470 110,490 65,130" fill="#d6dbe3"/>
<line x1="78" y1="100" x2="150" y2="480" stroke="#555" stroke-width="8"/>
<polygon points="155,168 665,150 665,368 160,372" fill="url(#dmg)"/>
<polygon points="170,378 662,368 660,568 180,572" fill="url(#dmg)"/>
<line x1="160" y1="374" x2="665" y2="368" stroke="#7a8090" stroke-width="6"/>
<circle cx="245" cy="318" r="36" fill="#a7adb8"/><circle cx="245" cy="318" r="24" fill="#2a2626"/>
<circle cx="590" cy="308" r="38" fill="#a7adb8"/><circle cx="590" cy="308" r="25" fill="#2a2626"/>
<circle cx="250" cy="430" r="36" fill="#a7adb8"/><circle cx="250" cy="430" r="24" fill="#2a2626"/>
<circle cx="582" cy="420" r="36" fill="#a7adb8"/><circle cx="582" cy="420" r="24" fill="#2a2626"/>
</g>
<g transform="translate(1905 1365) scale(0.166945)">
<defs><radialGradient id="irg" cx="0.45" cy="0.4" r="0.7"><stop offset="0" stop-color="#c3c9d0"/><stop offset="1" stop-color="#a9b1bb"/></radialGradient></defs>
<ellipse cx="1170" cy="335" rx="333" ry="270" fill="#d3d9e1"/>
<ellipse cx="1165" cy="325" rx="320" ry="255" fill="#dce2ea"/>
<ellipse cx="1168" cy="300" rx="218" ry="165" fill="#eef1f5"/>
<ellipse cx="1160" cy="305" rx="205" ry="155" fill="url(#irg)"/>
</g>
<g transform="translate(1905 1365) scale(0.166945)">
<ellipse cx="1997" cy="360" rx="243" ry="233.28" fill="#b8bcc4"/>
<ellipse cx="1982" cy="345" rx="243" ry="230.85" fill="#e6e9ee"/>
<ellipse cx="1972" cy="325" rx="199.26" ry="182.25" fill="#eef0f4"/>
<ellipse cx="1947" cy="290" rx="145.79999999999998" ry="140.94" fill="#dfe2e8"/>
<ellipse cx="1937" cy="255" rx="140.94" ry="133.65" fill="#f6f7f9"/>
<path d="M1848.35,393.6 L1909.1,413.04 L1909.1,430.05 L1848.35,410.61 Z" fill="#666"/>
<path d="M1977.14,405.75 L2054.9,364.44 L2054.9,383.88 L1977.14,425.19 Z" fill="#666"/>
<path d="M2091.35,296.4 L2115.65,235.64999999999998 L2122.94,259.95 L2098.64,320.7 Z" fill="#777"/>
<circle cx="1799.75" cy="230.79000000000002" r="12.15" fill="#444"/>
<circle cx="2144.81" cy="320.7" r="12.15" fill="#444"/>
</g>
<g transform="translate(2290.6 1371) scale(0.100170)">
<polygon points="90,770 410,730 430,720 440,805 200,880 95,925" fill="#262b30"/>
<polygon points="95,925 200,880 440,805 430,835 210,905 120,935" fill="#4a4a48"/>
<polygon points="400,665 600,660 590,710 410,720" fill="#15181b"/>
<path d="M420,700 L550,700 L545,820 Q520,850 480,850 Q440,845 430,820 Z" fill="#1d2226"/>
<polygon points="215,465 830,395 1080,470 1075,600 1035,625 300,665 230,625" fill="#23272b"/>
<polygon points="540,430 700,410 705,600 545,625" fill="#1a1d20"/>
<polygon points="190,350 880,170 955,162 1030,330 1080,470 830,395 215,475 180,460" fill="#1f3a50"/>
<polygon points="190,350 880,170 900,185 230,360" fill="#3b6580"/>
<polygon points="880,170 960,158 1185,250 1190,300 1135,445 1080,430 1030,330 900,225" fill="#0d0f12"/>
<path d="M860,270 L1010,300 Q1070,320 1085,380 L1080,580 Q1060,625 1010,615 L880,590 Q830,575 830,520 L830,320 Q835,265 860,270 Z" fill="#2a8ec0"/>
<path d="M870,300 L1000,320 Q1045,335 1055,385 L1050,560 Q1035,595 1000,590 L890,570 Q855,560 855,520 L855,340 Q858,300 870,300 Z" fill="#1f6a95"/>
<ellipse cx="940" cy="420" rx="80" ry="95" fill="#111"/>
<ellipse cx="935" cy="415" rx="55" ry="68" fill="#2e3350"/>
<ellipse cx="920" cy="395" rx="28" ry="30" fill="#7a6aa8"/>
<ellipse cx="245" cy="495" rx="42" ry="22" fill="#e11c1c"/>
<circle cx="1045" cy="440" r="9" fill="#8fd6f5"/><circle cx="1041" cy="482" r="9" fill="#8fd6f5"/><circle cx="1030" cy="521" r="9" fill="#8fd6f5"/><circle cx="1012" cy="553" r="9" fill="#8fd6f5"/><circle cx="989" cy="576" r="9" fill="#8fd6f5"/><circle cx="964" cy="588" r="9" fill="#8fd6f5"/><circle cx="936" cy="588" r="9" fill="#8fd6f5"/><circle cx="911" cy="576" r="9" fill="#8fd6f5"/><circle cx="888" cy="553" r="9" fill="#8fd6f5"/><circle cx="870" cy="521" r="9" fill="#8fd6f5"/><circle cx="859" cy="482" r="9" fill="#8fd6f5"/><circle cx="855" cy="440" r="9" fill="#8fd6f5"/><circle cx="859" cy="398" r="9" fill="#8fd6f5"/><circle cx="870" cy="359" r="9" fill="#8fd6f5"/><circle cx="888" cy="327" r="9" fill="#8fd6f5"/><circle cx="911" cy="304" r="9" fill="#8fd6f5"/><circle cx="936" cy="292" r="9" fill="#8fd6f5"/><circle cx="964" cy="292" r="9" fill="#8fd6f5"/><circle cx="989" cy="304" r="9" fill="#8fd6f5"/><circle cx="1012" cy="327" r="9" fill="#8fd6f5"/><circle cx="1030" cy="359" r="9" fill="#8fd6f5"/><circle cx="1041" cy="398" r="9" fill="#8fd6f5"/></g>
<g transform="translate(2295 1365) scale(0.183655)">
<polygon points="935,95 1025,68 1025,522 935,515" fill="#1e1f1f"/>
<polygon points="1025,68 1285,128 1285,522 1025,522" fill="#2c2e2e"/>
<polygon points="1025,490 1285,495 1285,522 1025,522" fill="#5a3a20" opacity="0.6"/>
<rect x="1068" y="130" width="182" height="242" fill="#121314"/>
<rect x="1088" y="168" width="142" height="172" fill="#bcd9ec"/>
<rect x="1185" y="190" width="40" height="140" fill="#8ec2e4"/>
<rect x="1115" y="205" width="22" height="22" fill="#e85040"/>
<rect x="1095" y="178" width="14" height="14" fill="#50c060"/>
<circle cx="1105" cy="407" r="16" fill="#e82a2a"/>
<circle cx="1166" cy="412" r="15" fill="#e02a2a"/>
<circle cx="1226" cy="419" r="15" fill="#2ad04a"/>
<rect x="1260" y="300" width="12" height="40" fill="#ccc"/>
</g>
<g transform="translate(2590 1370) scale(0.066225)">
<defs><linearGradient id="fanm" x1="0" y1="0" x2="0" y2="1"><stop offset="0" stop-color="#1f4468"/><stop offset="0.45" stop-color="#2f6c9e"/><stop offset="1" stop-color="#173456"/></linearGradient></defs>
<path d="M1600,480 Q1850,520 1850,800 Q1850,1120 1640,1160 L1450,1180 L1430,450 Z" fill="#2a6696"/>
<path d="M1380,380 L1650,450 L1660,1160 L1380,1230 Z" fill="#10263c"/>
<line x1="1405" y1="400" x2="1405" y2="1200" stroke="#2f6a9c" stroke-width="15"/><line x1="1437" y1="407" x2="1437" y2="1193" stroke="#2f6a9c" stroke-width="15"/><line x1="1469" y1="414" x2="1469" y2="1186" stroke="#2f6a9c" stroke-width="15"/><line x1="1501" y1="421" x2="1501" y2="1179" stroke="#2f6a9c" stroke-width="15"/><line x1="1533" y1="428" x2="1533" y2="1172" stroke="#2f6a9c" stroke-width="15"/><line x1="1565" y1="435" x2="1565" y2="1165" stroke="#2f6a9c" stroke-width="15"/><line x1="1597" y1="442" x2="1597" y2="1158" stroke="#2f6a9c" stroke-width="15"/><line x1="1629" y1="449" x2="1629" y2="1151" stroke="#2f6a9c" stroke-width="15"/>
<path d="M950,200 L1200,165 L1380,330 L1390,1230 L1100,1330 L950,1200 Z" fill="url(#fanm)"/>
<rect x="1590" y="740" width="120" height="180" fill="#3a4a5a"/>
<ellipse cx="620" cy="810" rx="510" ry="690" fill="#1c2b3b"/>
<ellipse cx="625" cy="820" rx="505" ry="680" fill="none" stroke="#2a3e55" stroke-width="14"/>
<ellipse cx="620" cy="830" rx="425" ry="600" fill="#07090c"/>
<polygon points="540,400 700,420 700,600 560,580" fill="#55555c"/>
<polygon points="740,330 960,440 790,640 720,600" fill="#111418"/>
<polygon points="800,640 1060,700 830,780" fill="#15181c"/>
<polygon points="820,920 1010,1060 700,1040" fill="#13161a"/>
<polygon points="360,680 470,610 470,800" fill="#1a1d22"/>
<polygon points="360,1010 500,930 560,1140" fill="#13161a"/>
<ellipse cx="600" cy="800" rx="175" ry="230" fill="#1d2c3c"/>
<ellipse cx="590" cy="790" rx="60" ry="80" fill="#22344a"/>
</g>
</svg>
</body></html>
